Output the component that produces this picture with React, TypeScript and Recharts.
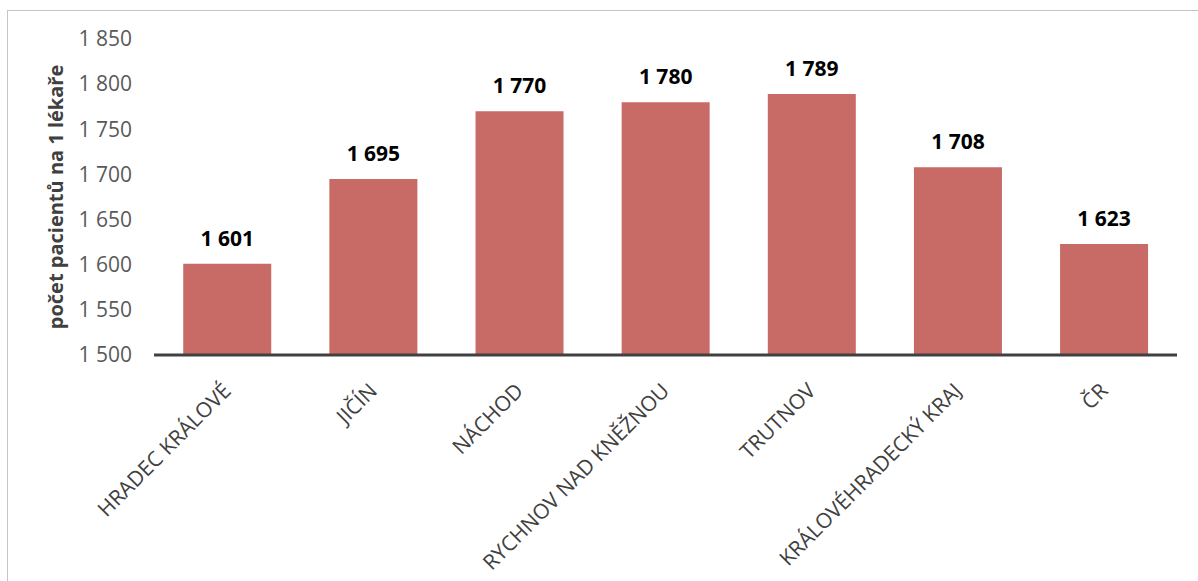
import React from "react";
import { BarChart, Bar, XAxis, YAxis, LabelList } from "recharts";

const categories: string[] = [
  "HRADEC KRÁLOVÉ",
  "JIČÍN",
  "NÁCHOD",
  "RYCHNOV NAD KNĚŽNOU",
  "TRUTNOV",
  "KRÁLOVÉHRADECKÝ KRAJ",
  "ČR",
];
const values: number[] = [1601, 1695, 1770, 1780, 1789, 1708, 1623];
const yTicks: number[] = [1500, 1550, 1600, 1650, 1700, 1750, 1800, 1850];
const yTitle = "počet pacientů na 1 lékaře";

const data = categories.map((c, i) => ({ name: c, value: values[i] }));

const fmt = (v: number) =>
  `${Math.floor(v / 1000)} ${String(Math.round(v) % 1000).padStart(3, "0")}`;

const FONT = "'Open Sans', sans-serif";

const YTick = (props: any) => {
  const { x, y, payload } = props;
  return (
    <text
      x={x - 14}
      y={y}
      dy="0.35em"
      textAnchor="end"
      fontFamily={FONT}
      fontSize={21}
      fill="#595959"
    >
      {fmt(payload.value)}
    </text>
  );
};

const XTick = (props: any) => {
  const { x, y, payload } = props;
  const ty = y + 24;
  return (
    <text
      x={x}
      y={ty}
      dy="0.35em"
      textAnchor="end"
      fontFamily={FONT}
      fontSize={21}
      fill="#404040"
      transform={`rotate(-45, ${x}, ${ty})`}
    >
      {payload.value}
    </text>
  );
};

const BarLabel = (props: any) => {
  const { x, y, width, value } = props;
  return (
    <text
      x={x + width / 2}
      y={y - 18}
      textAnchor="middle"
      fontFamily={FONT}
      fontSize={21}
      fontWeight="bold"
      fill="#000000"
    >
      {fmt(value)}
    </text>
  );
};

const YTitle = (props: any) => {
  const { viewBox } = props;
  const cy = viewBox.y + viewBox.height / 2;
  const cx = 56;
  return (
    <text
      x={cx}
      y={cy}
      dy="0.35em"
      textAnchor="middle"
      fontFamily={FONT}
      fontSize={20}
      fontWeight="bold"
      fill="#404040"
      transform={`rotate(-90, ${cx}, ${cy})`}
    >
      {yTitle}
    </text>
  );
};

export default function App() {
  return (
    <div
      style={{
        position: "absolute",
        left: 0,
        top: 0,
        width: 1198,
        height: 581,
        overflow: "hidden",
        background: "#ffffff",
      }}
    >
      <div style={{ position: "absolute", left: 0, top: 0 }}>
        <BarChart
          width={1198}
          height={581}
          data={data}
          margin={{ top: 39, right: 21, left: 0, bottom: 0 }}
          barCategoryGap="20%"
        >
          <YAxis
            width={154}
            domain={[1500, 1850]}
            ticks={yTicks}
            axisLine={false}
            tickLine={false}
            tick={<YTick />}
            interval={0}
            allowDataOverflow
            label={<YTitle />}
          />
          <XAxis
            dataKey="name"
            height={226}
            interval={0}
            tickLine={false}
            axisLine={{ stroke: "#404040", strokeWidth: 3 }}
            tick={<XTick />}
          />
          <Bar dataKey="value" fill="#C86A66" isAnimationActive={false}>
            <LabelList dataKey="value" content={<BarLabel />} />
          </Bar>
        </BarChart>
      </div>
      <svg
        width={1198}
        height={581}
        style={{ position: "absolute", left: 0, top: 0, pointerEvents: "none" }}
      >
        <line x1={7.5} y1={10.5} x2={7.5} y2={581} stroke="#c4c4c4" strokeWidth={1} />
        <line x1={7} y1={10.5} x2={1198} y2={10.5} stroke="#c4c4c4" strokeWidth={1} />
      </svg>
    </div>
  );
}
